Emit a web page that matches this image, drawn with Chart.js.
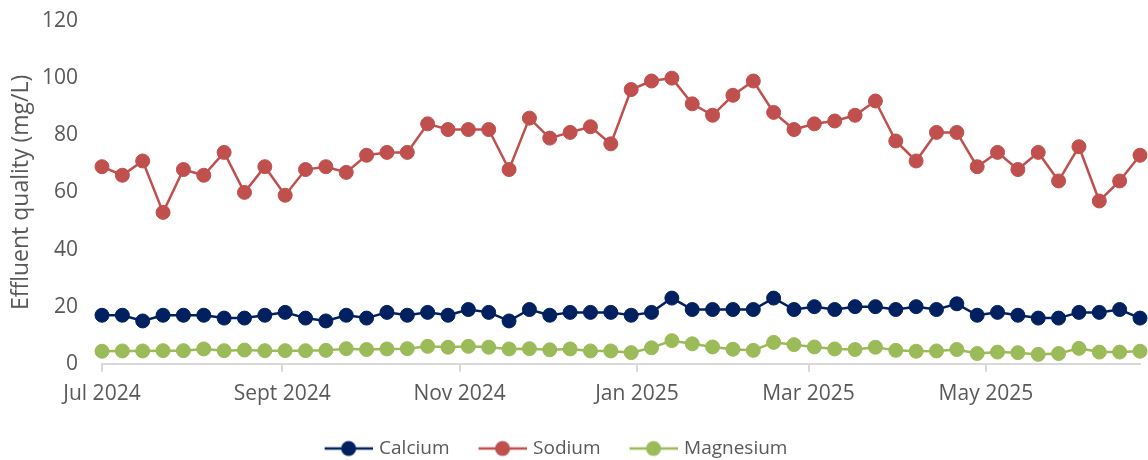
<!DOCTYPE html>
<html>
<head>
<meta charset="utf-8">
<script src="https://cdn.jsdelivr.net/npm/chart.js@4.4.1/dist/chart.umd.min.js"></script>
<style>
  html, body { margin: 0; padding: 0; background: #fff; }
  #wrap { width: 1148px; height: 460px; }
</style>
</head>
<body>
<div id="wrap"><canvas id="chart" width="1148" height="460"></canvas></div>
<script>
// weekly sample dates
const weeks = [
  '2024-07-01', '2024-07-08', '2024-07-15', '2024-07-22', '2024-07-29',
  '2024-08-05', '2024-08-12', '2024-08-19', '2024-08-26',
  '2024-09-02', '2024-09-09', '2024-09-16', '2024-09-23', '2024-09-30',
  '2024-10-07', '2024-10-14', '2024-10-21', '2024-10-28',
  '2024-11-04', '2024-11-11', '2024-11-18', '2024-11-25',
  '2024-12-02', '2024-12-09', '2024-12-16', '2024-12-23', '2024-12-30',
  '2025-01-06', '2025-01-13', '2025-01-20', '2025-01-27',
  '2025-02-03', '2025-02-10', '2025-02-17', '2025-02-24',
  '2025-03-03', '2025-03-10', '2025-03-17', '2025-03-24', '2025-03-31',
  '2025-04-07', '2025-04-14', '2025-04-21', '2025-04-28',
  '2025-05-05', '2025-05-12', '2025-05-19', '2025-05-26',
  '2025-06-02', '2025-06-09', '2025-06-16', '2025-06-23'
];

const calcium = [
  17, 17, 15, 17, 17, 17, 16, 16, 17, 18, 16, 15, 17, 16, 18, 17, 18,
  17, 19, 18, 15, 19, 17, 18, 18, 18, 17, 18, 23, 19, 19, 19, 19, 23,
  19, 20, 19, 20, 20, 19, 20, 19, 21, 17, 18, 17, 16, 16, 18, 18, 19, 16
];
const sodium = [
  69, 66, 71, 53, 68, 66, 74, 60, 69, 59, 68, 69, 67, 73, 74, 74, 84,
  82, 82, 82, 68, 86, 79, 81, 83, 77, 96, 99, 100, 91, 87, 94, 99, 88,
  82, 84, 85, 87, 92, 78, 71, 81, 81, 69, 74, 68, 74, 64, 76, 57, 64, 73
];
const magnesium = [
  4.4, 4.5, 4.5, 4.6, 4.6, 5.2, 4.6, 4.8, 4.6, 4.6, 4.6, 4.7, 5.3, 5.0, 5.2, 5.3, 6.1,
  5.8, 6.1, 5.8, 5.2, 5.3, 4.9, 5.2, 4.5, 4.5, 3.9, 5.6, 8.1, 7.0, 5.9, 5.1, 4.7, 7.5,
  6.7, 5.9, 5.2, 5.0, 5.8, 4.7, 4.4, 4.5, 5.0, 3.6, 4.1, 3.9, 3.3, 3.6, 5.4, 4.1, 4.1, 4.4
];

const tickDates = ['2024-07-01', '2024-09-01', '2024-11-01', '2025-01-01', '2025-03-01', '2025-05-01'];
const tickLabels = ['Jul 2024', 'Sept 2024', 'Nov 2024', 'Jan 2025', 'Mar 2025', 'May 2025'];

const FONT = "'Open Sans', sans-serif";
const TEXT = '#595959';

// days since first sample
const dayOf = s => (Date.parse(s) - Date.parse(weeks[0])) / 86400000;
const toPoints = vals => vals.map((v, i) => ({ x: dayOf(weeks[i]), y: v }));

// legend icon: line with a dot in the middle (10px blank on the left as spacing)
const legendIcon = color => {
  const c = document.createElement('canvas');
  c.width = 58; c.height = 18;
  const g = c.getContext('2d');
  g.strokeStyle = color;
  g.lineWidth = 2.5;
  g.beginPath(); g.moveTo(10, 9); g.lineTo(58, 9); g.stroke();
  g.fillStyle = color;
  g.beginPath(); g.arc(34, 9, 7.5, 0, Math.PI * 2); g.fill();
  return c;
};

const series = [
  { label: 'Calcium', values: calcium, color: '#002060' },
  { label: 'Sodium', values: sodium, color: '#C0504D' },
  { label: 'Magnesium', values: magnesium, color: '#9BBB59' }
];

// legend sits a little left of centre in the original
const legendShift = {
  id: 'legendShift',
  afterLayout: chart => {
    chart.legend.left -= 18;
    chart.legend.right -= 18;
  }
};

new Chart(document.getElementById('chart').getContext('2d'), {
  type: 'line',
  data: {
    datasets: series.map(s => ({
      label: s.label,
      data: toPoints(s.values),
      borderColor: s.color,
      backgroundColor: s.color,
      borderWidth: 2.5,
      pointRadius: 7,
      pointBorderWidth: 1,
      pointBackgroundColor: s.color,
      pointBorderColor: s.color,
      tension: 0,
      clip: false
    }))
  },
  plugins: [legendShift],
  options: {
    responsive: false,
    animation: false,
    devicePixelRatio: 1,
    layout: { padding: { top: 21, right: 7, bottom: -8, left: 0 } },
    scales: {
      x: {
        type: 'linear',
        min: 0,
        max: dayOf(weeks[weeks.length - 1]),
        afterBuildTicks: axis => {
          axis.ticks = tickDates.map(d => ({ value: dayOf(d) }));
        },
        ticks: {
          autoSkip: false,
          maxRotation: 0,
          padding: 10,
          color: TEXT,
          font: { family: FONT, size: 21 },
          callback: v => tickLabels[tickDates.findIndex(d => dayOf(d) === v)]
        },
        grid: {
          display: true,
          drawOnChartArea: false,
          drawTicks: true,
          tickLength: 8,
          color: '#D9D9D9',
          lineWidth: 2
        },
        border: { display: true, color: '#D9D9D9', width: 2 }
      },
      y: {
        min: 0,
        max: 120,
        afterFit: scale => {
          scale.width = 102;
          scale.paddingTop = 12;
          scale.paddingBottom = 12;
        },
        ticks: {
          stepSize: 20,
          padding: 24,
          color: TEXT,
          font: { family: FONT, size: 21 }
        },
        grid: { display: false, drawTicks: false },
        border: { display: false },
        title: {
          display: true,
          text: 'Effluent quality (mg/L)',
          color: TEXT,
          font: { family: FONT, size: 23 },
          padding: { top: 8, bottom: 0 }
        }
      }
    },
    plugins: {
      tooltip: { enabled: false },
      legend: {
        position: 'bottom',
        labels: {
          usePointStyle: true,
          pointStyleWidth: 52,
          padding: 22,
          color: TEXT,
          font: { family: FONT, size: 19 },
          generateLabels: chart => chart.data.datasets.map((ds, i) => ({
            text: ds.label,
            fillStyle: ds.borderColor,
            strokeStyle: ds.borderColor,
            fontColor: TEXT,
            lineWidth: 0,
            pointStyle: legendIcon(ds.borderColor),
            hidden: false,
            datasetIndex: i
          }))
        }
      }
    }
  }
});
</script>
</body>
</html>
